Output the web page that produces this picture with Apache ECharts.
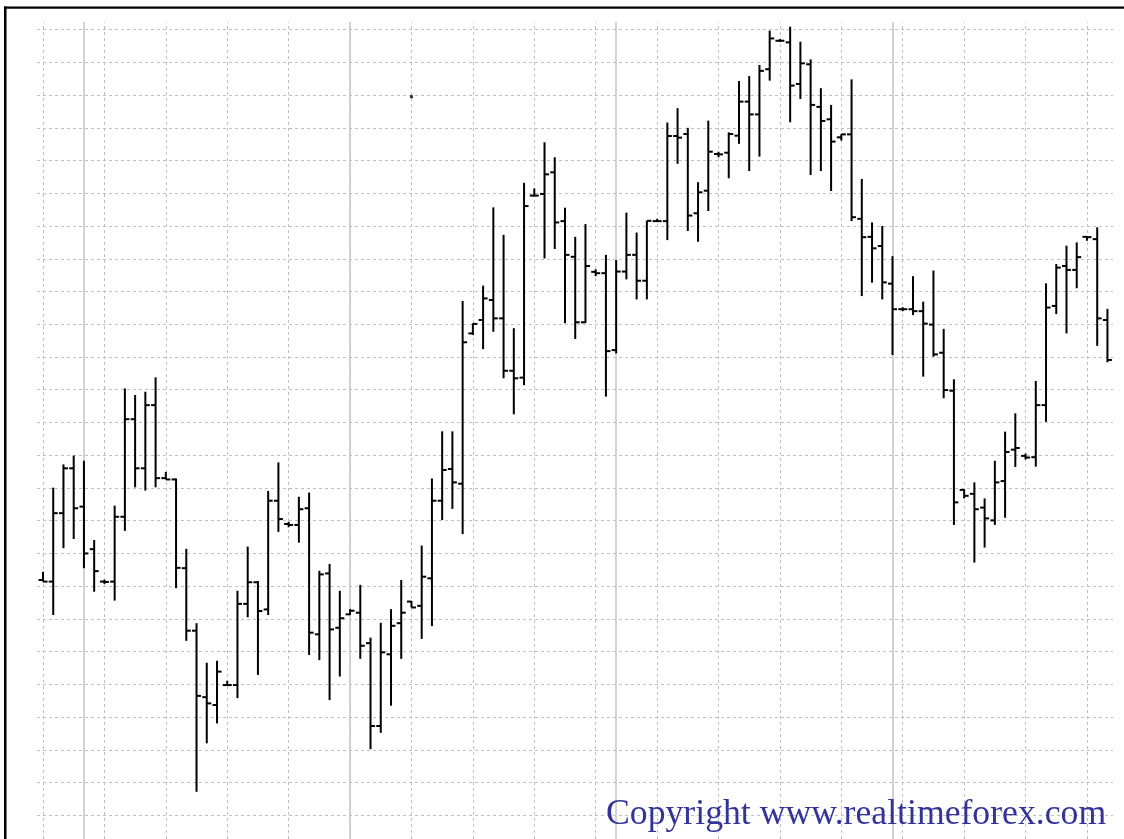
<!DOCTYPE html>
<html>
<head>
<meta charset="utf-8">
<script src="https://cdn.jsdelivr.net/npm/echarts@6/dist/echarts.min.js"></script>
<style>
html,body{margin:0;padding:0;background:#fff;}
#chart{width:1124px;height:839px;}
</style>
</head>
<body>
<div id="chart"></div>
<script>
// OHLC values (arbitrary price units, one grid row = 10)
var opens = [71.9,71.4,92.3,106.0,94.3,81.3,71.4,71.4,91.2,121.0,106.0,125.3,103.0,102.6,75.5,56.4,36.1,33.7,39.8,39.8,
  64.6,71.2,62.9,96.1,89.0,88.7,93.8,55.3,73.9,57.3,61.4,61.9,52.6,27.3,49.2,58.7,65.3,64.0,72.4,96.1,
  105.8,101.3,147.2,151.3,157.4,151.8,135.8,133.7,189.3,189.8,196.4,181.5,170.6,150.6,166.0,165.6,142.1,166.1,171.2,163.3,
  181.5,181.5,207.5,208.1,183.9,190.8,202.0,202.4,207.6,218.0,214.1,227.9,236.6,236.1,223.4,229.4,216.4,212.6,207.1,208.0,
  182.2,176.7,173.9,162.4,154.6,154.6,154.0,149.9,141.3,129.7,99.4,98.2,94.0,90.1,102.1,111.7,109.8,109.4,125.3,155.6,
  167.8,166.6,176.7,176.0,151.3];
var highs = [74.4,100.1,107.2,109.9,108.3,84.1,72.0,94.6,130.4,128.4,129.4,133.8,104.9,102.9,81.4,58.7,46.6,47.2,41.1,68.6,
  82.1,71.6,99.1,107.8,89.7,97.3,98.6,74.7,76.8,68.6,63.0,70.4,54.3,58.8,63.0,71.9,65.5,82.4,102.9,117.3,
  117.3,157.1,150.3,161.8,185.7,177.3,148.8,193.2,191.5,205.6,201.0,185.6,176.7,180.6,166.8,171.2,169.6,184.1,178.0,181.6,
  182.2,211.6,216.0,210.0,193.4,212.2,202.7,208.6,224.3,225.8,229.2,239.7,237.1,240.9,236.3,230.9,222.1,217.0,208.1,224.8,
  194.4,181.1,180.0,170.8,155.2,164.7,156.9,166.4,148.6,133.2,99.6,101.7,96.8,108.3,117.2,122.8,110.5,132.7,162.5,168.4,
  174.0,175.0,176.9,179.6,154.7];
var lows = [71.4,61.2,81.6,84.4,75.5,68.3,70.7,65.6,86.9,100.2,99.2,100.2,102.6,69.4,53.3,7.2,22.0,28.1,39.5,35.8,
  60.5,42.9,61.2,86.6,88.0,83.3,49.0,47.4,35.2,42.4,61.2,47.8,20.2,25.2,33.5,47.8,63.5,53.9,57.8,90.2,
  93.6,85.9,146.7,142.4,147.7,133.5,122.5,131.4,189.0,170.1,173.0,150.3,145.5,150.4,164.7,127.9,141.1,163.7,157.6,157.6,
  181.3,175.7,199.0,178.5,175.2,184.6,201.0,194.6,205.1,196.8,201.2,224.4,236.2,211.7,218.8,195.6,196.8,190.7,206.1,181.5,
  158.6,162.7,157.6,140.6,154.0,152.8,134.0,140.1,127.4,88.7,96.8,77.2,81.8,88.7,90.9,106.4,108.7,106.5,120.2,153.1,
  147.2,161.0,175.5,143.4,138.4];
var closes = [71.4,92.3,106.0,93.8,80.0,74.6,71.3,91.2,121.0,106.0,125.3,103.0,102.6,75.6,56.4,36.5,34.2,43.9,39.8,64.6,
  71.2,62.4,96.1,90.5,88.7,93.5,55.8,73.6,56.8,60.2,62.5,51.8,27.3,49.8,57.9,61.9,63.5,72.9,96.1,105.5,
  101.7,144.5,150.1,157.9,151.8,135.8,133.5,186.1,189.3,195.8,181.1,171.2,150.6,167.8,165.6,141.8,166.1,171.2,163.3,181.6,
  181.5,207.5,207.0,183.2,190.3,202.7,201.9,208.1,218.0,214.1,227.4,237.3,236.6,222.9,229.7,217.0,212.1,205.8,208.0,182.7,
  176.6,173.2,162.8,154.6,154.6,154.0,150.2,140.8,129.9,95.6,97.6,93.5,90.7,101.7,111.0,112.2,109.3,125.3,155.1,167.3,
  166.6,170.5,176.6,151.8,139.1];
// bars where a solid session separator is drawn
var separators = [4, 30, 56, 83];
// stray dot seen in the picture: [bar, value]
var strayDots = [[36, 219.5]];
// grid steps: a dashed vertical line every 6 bars, a dashed horizontal line every 10 units
var barGridStep = 6;
var valueGridStep = 10;
var valueGridTop = 240;
var copyrightText = 'Copyright www.realtimeforex.com';

var ohlc = opens.map(function (o, i) { return [i, o, highs[i], lows[i], closes[i]]; });

var W = 1124, H = 839;
var barStep = 10.235;     // pixels per bar
var x0 = 43;              // pixel of bar 0
var xMin = -x0 / barStep, xMax = (W - x0) / barStep;
var hTop = 29.6;          // pixel of the top horizontal grid line
var pxPerUnit = 3.274;
var yMin = valueGridTop - (H - hTop) / pxPerUnit;
var vTop = 22;
var y1Max = valueGridTop + (hTop - vTop) / pxPerUnit;

var vLines = [];
for (var b = 0; b < opens.length; b += barGridStep) vLines.push({xAxis: b});
var hLines = [];
for (var v = 0; v <= valueGridTop; v += valueGridStep) hLines.push({yAxis: v});

var gridColor = '#c0c0c0';
var hidden = {axisLine: {show: false}, axisTick: {show: false}, axisLabel: {show: false}, splitLine: {show: false}};

var chart = echarts.init(document.getElementById('chart'), null, {renderer: 'canvas'});
chart.setOption({
  animation: false,
  backgroundColor: '#ffffff',
  grid: [
    {left: 37, right: 11, top: hTop, bottom: 0, show: false},
    {left: 0, right: 0, top: vTop, bottom: 0, show: false}
  ],
  xAxis: [
    Object.assign({gridIndex: 0, type: 'value', min: 0, max: 1}, hidden),
    Object.assign({gridIndex: 1, type: 'value', min: xMin, max: xMax}, hidden)
  ],
  yAxis: [
    Object.assign({gridIndex: 0, type: 'value', min: yMin, max: valueGridTop}, hidden),
    Object.assign({gridIndex: 1, type: 'value', min: yMin, max: y1Max}, hidden)
  ],
  series: [
    {
      type: 'scatter', xAxisIndex: 0, yAxisIndex: 0, data: [], silent: true, z: 1,
      markLine: {
        silent: true, symbol: ['none', 'none'], label: {show: false}, animation: false,
        lineStyle: {color: gridColor, width: 1, type: [3, 3]},
        emphasis: {disabled: true},
        data: hLines
      }
    },
    {
      type: 'scatter', xAxisIndex: 1, yAxisIndex: 1, data: [], silent: true, z: 1,
      markLine: {
        silent: true, symbol: ['none', 'none'], label: {show: false}, animation: false,
        lineStyle: {color: gridColor, width: 1, type: [3, 3]},
        emphasis: {disabled: true},
        data: vLines
      }
    },
    {
      type: 'scatter', xAxisIndex: 1, yAxisIndex: 1, data: [], silent: true, z: 2,
      markLine: {
        silent: true, symbol: ['none', 'none'], label: {show: false}, animation: false,
        lineStyle: {color: '#c8c8c8', width: 1.6, type: 'solid'},
        emphasis: {disabled: true},
        data: separators.map(function (s) { return {xAxis: s}; })
      }
    },
    {
      type: 'custom', xAxisIndex: 1, yAxisIndex: 1, z: 5,
      data: ohlc,
      encode: {x: 0, y: [1, 2, 3, 4]},
      renderItem: function (params, api) {
        var x = api.value(0);
        var o = api.coord([x, api.value(1)]);
        var h = api.coord([x, api.value(2)]);
        var l = api.coord([x, api.value(3)]);
        var c = api.coord([x, api.value(4)]);
        var st = {stroke: '#000', lineWidth: 2};
        return {
          type: 'group',
          children: [
            {type: 'line', shape: {x1: h[0], y1: h[1], x2: l[0], y2: l[1]}, style: st},
            {type: 'line', shape: {x1: o[0] - 4.5, y1: o[1], x2: o[0], y2: o[1]}, style: st},
            {type: 'line', shape: {x1: c[0], y1: c[1], x2: c[0] + 4.5, y2: c[1]}, style: st}
          ]
        };
      }
    },
    {
      type: 'scatter', xAxisIndex: 1, yAxisIndex: 1, z: 6, silent: true,
      data: strayDots, symbol: 'rect', symbolSize: 3,
      itemStyle: {color: '#000'}
    }
  ],
  graphic: [
    {type: 'rect', shape: {x: 4, y: 6.5, width: 1120, height: 2.3}, style: {fill: '#000'}, z: 100},
    {type: 'rect', shape: {x: 4, y: 6.5, width: 2.5, height: 840}, style: {fill: '#000'}, z: 100},
    {type: 'text', x: 606, y: 815, z: 100,
      style: {text: copyrightText, font: '35.7px "Liberation Serif"', fill: '#333399',
        align: 'left', verticalAlign: 'middle'}}
  ]
});
</script>
</body>
</html>
